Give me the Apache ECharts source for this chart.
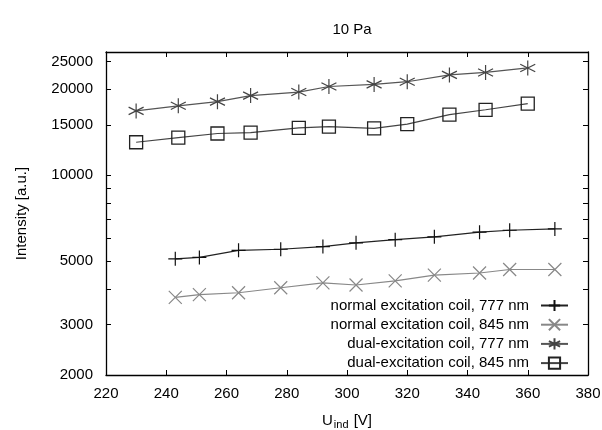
<!DOCTYPE html>
<html>
<head>
<meta charset="utf-8">
<script src="https://cdn.jsdelivr.net/npm/echarts@6/dist/echarts.min.js"></script>
<style>
html,body{margin:0;padding:0;background:#fff;}
#chart{width:602px;height:430px;}
</style>
</head>
<body>
<div id="chart"></div>
<script>
// ---- data ----
const xNormal = [243, 251, 264, 278, 292, 303, 316, 329, 344, 354, 369];
const normal777 = [5100, 5160, 5460, 5510, 5630, 5800, 5950, 6090, 6320, 6420, 6490];
const normal845 = [3740, 3820, 3880, 4040, 4200, 4130, 4270, 4470, 4550, 4680, 4680];
const xDual = [230, 244, 257, 268, 284, 294, 309, 320, 334, 346, 360];
const dual777 = [16800, 17500, 18100, 19000, 19550, 20450, 20800, 21250, 22450, 22900, 23750];
const dual845 = [13050, 13550, 14000, 14100, 14650, 14800, 14600, 15100, 16300, 16950, 17800];
const seriesNames = [
  'normal excitation coil, 777 nm',
  'normal excitation coil, 845 nm',
  'dual-excitation coil, 777 nm',
  'dual-excitation coil, 845 nm'
];
const yLabelValues = [2000, 3000, 5000, 10000, 15000, 20000, 25000];
const yTickValues = [2000, 3000, 4000, 5000, 6000, 7000, 8000, 9000, 10000, 15000, 20000, 25000];
const xMin = 220, xMax = 380, xStep = 20;
const yMin = 2000, yMax = 27000;

const pair = (xs, ys) => xs.map((x, i) => [x, ys[i]]);

const PLUS = 'path://M0,-1L0,1M-1,0L1,0';
const CROSS = 'path://M-1,-1L1,1M-1,1L1,-1';
const STAR = 'path://M0,-1L0,1M-0.87,-0.5L0.87,0.5M-0.87,0.5L0.87,-0.5M-0.06,0L0.06,0M0,-0.06L0,0.06';

const font = 'Liberation Sans, Arial, sans-serif';

const chart = echarts.init(document.getElementById('chart'), null, {renderer: 'canvas'});

const yAxisBase = {
  type: 'log', logBase: 10, min: yMin, max: yMax,
  axisLine: {show: true, lineStyle: {color: '#000', width: 1.3}},
  splitLine: {show: false},
  minorTick: {show: false},
  axisTick: {show: true, inside: true, length: 5, lineStyle: {color: '#000', width: 1}, customValues: yTickValues}
};
const xAxisBase = {
  type: 'value', min: xMin, max: xMax, interval: xStep,
  axisLine: {show: true, lineStyle: {color: '#000', width: 1.3}},
  splitLine: {show: false},
  axisTick: {show: true, inside: true, length: 5, lineStyle: {color: '#000', width: 1}}
};

chart.setOption({
  animation: false,
  backgroundColor: '#fff',
  title: {
    text: '10 Pa', left: 347, top: 17, textAlign: 'center',
    textStyle: {fontFamily: font, fontSize: 15, fontWeight: 'normal', color: '#000'}
  },
  grid: {left: 106, right: 14, top: 52, bottom: 55, containLabel: false, outerBoundsMode: 'none'},
  xAxis: [
    Object.assign({}, xAxisBase, {
      position: 'bottom',
      axisLabel: {show: true, margin: 11, fontFamily: font, fontSize: 15, color: '#000', formatter: v => String(v)},
      name: '{a|U}{s|ind}{a| [V]}', nameLocation: 'middle', nameGap: 37,
      nameTextStyle: {
        rich: {
          a: {fontFamily: font, fontSize: 15, color: '#000'},
          s: {fontFamily: font, fontSize: 11, color: '#000', padding: [7, 1, 0, 1]}
        }
      }
    }),
    Object.assign({}, xAxisBase, {position: 'top', axisLabel: {show: false}})
  ],
  yAxis: [
    Object.assign({}, yAxisBase, {
      position: 'left',
      axisLabel: {show: true, margin: 13, fontFamily: font, fontSize: 15, color: '#000',
        customValues: yLabelValues, formatter: v => String(Math.round(v))},
      name: 'Intensity [a.u.]', nameLocation: 'middle', nameGap: 77, nameRotate: 90,
      nameTextStyle: {fontFamily: font, fontSize: 15, color: '#000'}
    }),
    Object.assign({}, yAxisBase, {position: 'right', axisLabel: {show: false}})
  ],
  legend: {
    orient: 'vertical', align: 'right', right: 28, top: 293,
    itemWidth: 27, itemHeight: 14, itemGap: 4.2,
    textStyle: {fontFamily: font, fontSize: 15, color: '#000', padding: [0, 7, 0, 0]},
    data: seriesNames
  },
  series: [
    {
      name: seriesNames[0], type: 'line', data: pair(xNormal, normal777),
      symbol: PLUS, symbolSize: 14,
      lineStyle: {color: '#222', width: 1.2},
      itemStyle: {color: 'transparent', borderColor: '#111', borderWidth: 1.2}
    },
    {
      name: seriesNames[1], type: 'line', data: pair(xNormal, normal845),
      symbol: CROSS, symbolSize: 13,
      lineStyle: {color: '#888', width: 1.2},
      itemStyle: {color: 'transparent', borderColor: '#888', borderWidth: 1.2}
    },
    {
      name: seriesNames[2], type: 'line', data: pair(xDual, dual777),
      symbol: STAR, symbolSize: 15,
      lineStyle: {color: '#555', width: 1.2},
      itemStyle: {color: 'transparent', borderColor: '#444', borderWidth: 1.2}
    },
    {
      name: seriesNames[3], type: 'line', data: pair(xDual, dual845),
      symbol: 'rect', symbolSize: 13,
      lineStyle: {color: '#444', width: 1.2},
      itemStyle: {color: 'transparent', borderColor: '#222', borderWidth: 1.3}
    }
  ]
});
</script>
</body>
</html>
